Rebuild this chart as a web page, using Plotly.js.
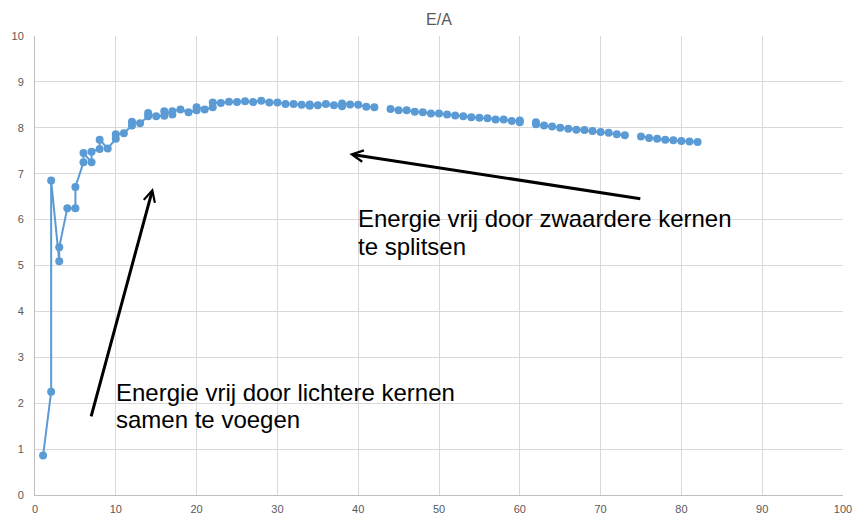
<!DOCTYPE html>
<html>
<head>
<meta charset="utf-8">
<script src="https://cdn.plot.ly/plotly-3.0.1.min.js"></script>
<style>html,body{margin:0;padding:0;background:#fff;}#chart{width:856px;height:516px;}</style>
</head>
<body>
<div id="chart"></div>
<script>
// Mass number A (x) and binding energy per nucleon E/A (y); null breaks the line
var massNumber = [1, 2, 2, 3, 3, 4, 5, 5, 6, 6, 7, 7, 8, 8, 9, 10, 10, 11, 12, 12, 13, 14, 14, 15, 16, 16, 17, 17, 18, 19, 20, 20,
  21, 22, 22, 23, 24, 25, 26, 27, 28, 29, 30, 31, 32, 33, 34, 34, 35, 36, 37, 38, 38, 39, 40, 41, 42, 43,
  44, 45, 46, 47, 48, 49, 50, 51, 52, 53, 54, 55, 56, 57, 58, 59, 60, 60, 61,
  62, 62, 63, 64, 65, 66, 67, 68, 69, 70, 71, 72, 73, 74,
  75, 76, 77, 78, 79, 80, 81, 82];
var energyPerNucleon = [0.86, 2.25, 6.85, 5.09, 5.40, 6.25, 6.25, 6.71, 7.25, 7.45, 7.25, 7.48, 7.54, 7.74, 7.55, 7.76, 7.86, 7.88, 8.05, 8.13, 8.10, 8.25, 8.32, 8.25, 8.26, 8.36, 8.29, 8.36, 8.40, 8.34, 8.38, 8.45,
  8.40, 8.45, 8.55, 8.54, 8.57, 8.56, 8.58, 8.56, 8.59, 8.55, 8.55, 8.52, 8.52, 8.50, 8.48, 8.51, 8.49, 8.52, 8.49, 8.47, 8.53, 8.51, 8.50, 8.46, 8.45, null,
  8.41, 8.38, 8.38, 8.35, 8.34, 8.31, 8.31, 8.29, 8.27, 8.25, 8.23, 8.22, 8.21, 8.18, 8.18, 8.15, 8.16, 8.12, null,
  8.12, 8.08, 8.05, 8.03, 8.00, 7.98, 7.96, 7.95, 7.93, 7.91, 7.89, 7.86, 7.84, null,
  7.81, 7.78, 7.76, 7.74, 7.73, 7.71, 7.70, 7.69];

var chartTitle = 'E/A';
var fusionLines = ['Energie vrij door lichtere kernen', 'samen te voegen'];
var fissionLines = ['Energie vrij door zwaardere kernen', 'te splitsen'];

var trace = {
  x: massNumber,
  y: energyPerNucleon,
  type: 'scatter',
  mode: 'lines+markers',
  connectgaps: false,
  line: {color: '#5B9BD5', width: 2},
  marker: {color: '#5B9BD5', size: 8},
  hoverinfo: 'x+y'
};

var textFont = {family: 'Liberation Sans, Arial, sans-serif', size: 24, color: '#000000'};
function textAnn(txt, x, y) {
  return {text: txt, x: x, y: y, xref: 'x', yref: 'y', xanchor: 'left', yanchor: 'middle',
    showarrow: false, font: textFont, borderpad: 0};
}
function arrowAnn(x, y, ax, ay) {
  return {text: '', x: x, y: y, ax: ax, ay: ay, xref: 'x', yref: 'y', axref: 'x', ayref: 'y',
    showarrow: true, arrowhead: 5, arrowsize: 0.75, arrowwidth: 3, arrowcolor: '#000000', standoff: 0};
}

var layout = {
  width: 856,
  height: 516,
  margin: {l: 35, r: 13, t: 36, b: 21},
  paper_bgcolor: '#ffffff',
  plot_bgcolor: '#ffffff',
  showlegend: false,
  font: {family: 'Liberation Sans, Arial, sans-serif', color: '#595959', size: 11},
  title: {text: chartTitle, font: {size: 16, color: '#595959'}, x: 0.5, xref: 'paper', y: 1 - 19 / 516, yref: 'container', yanchor: 'middle'},
  xaxis: {range: [0, 100], dtick: 10, tick0: 0, showgrid: true, gridcolor: '#D9D9D9', gridwidth: 1,
    zeroline: false, showline: true, linecolor: '#BFBFBF', linewidth: 1, ticks: '', ticklabelstandoff: 4,
    tickfont: {size: 11, color: '#595959'}},
  yaxis: {range: [0, 10], dtick: 1, tick0: 0, showgrid: true, gridcolor: '#D9D9D9', gridwidth: 1,
    zeroline: false, showline: true, linecolor: '#BFBFBF', linewidth: 1, ticks: '', ticklabelstandoff: 8,
    tickfont: {size: 11, color: '#595959'}},
  annotations: [
    arrowAnn(14.6, 6.69, 6.9, 1.68),
    arrowAnn(38.9, 7.43, 75.1, 6.45),
    textAnn(fusionLines[0], 9.95, 2.23),
    textAnn(fusionLines[1], 9.95, 1.65),
    textAnn(fissionLines[0], 39.9, 6.02),
    textAnn(fissionLines[1], 39.9, 5.41)
  ]
};

Plotly.newPlot('chart', [trace], layout, {displayModeBar: false, staticPlot: true});
</script>
</body>
</html>
